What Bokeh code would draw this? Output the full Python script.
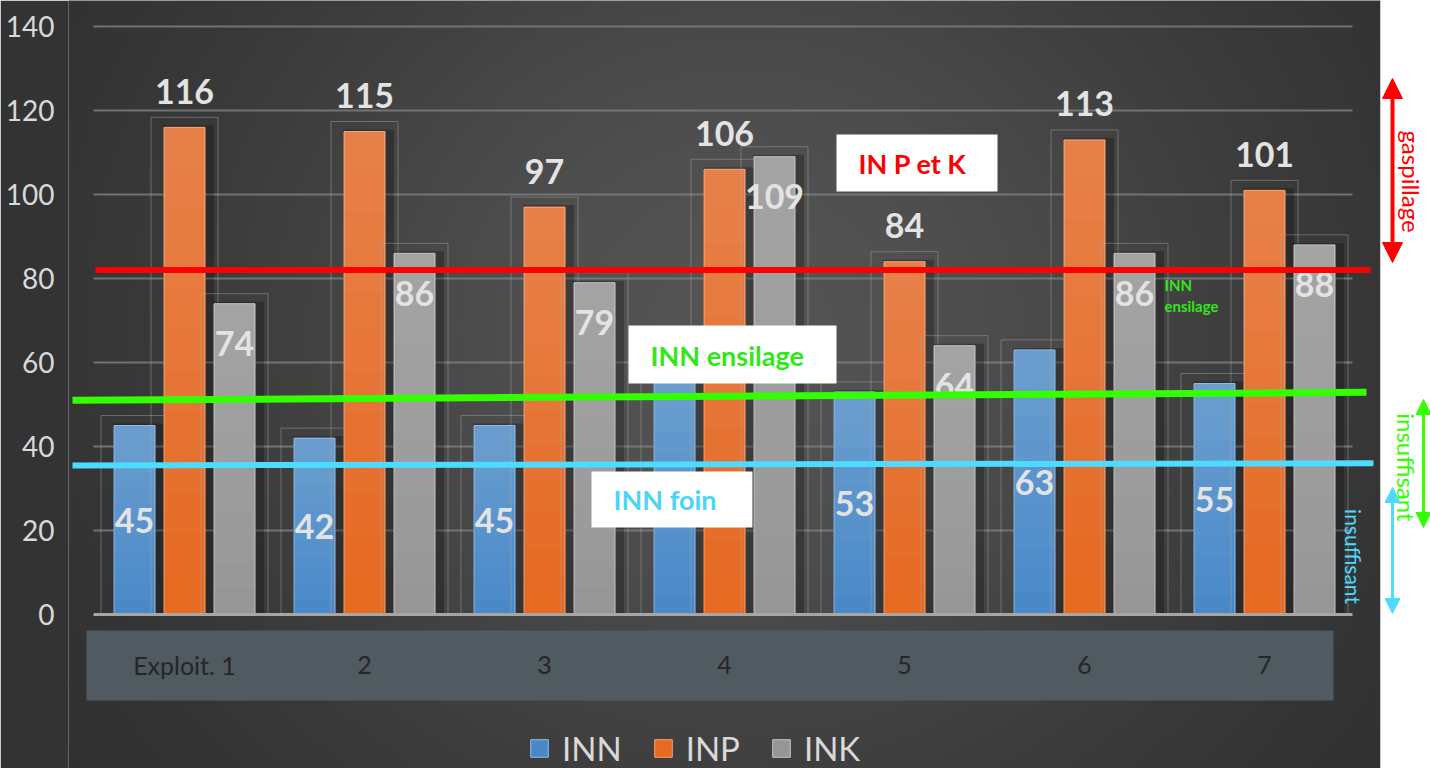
import numpy as np
from bokeh.plotting import figure
from bokeh.models import (Range1d, FixedTicker, ColumnDataSource, Legend, LegendItem,
                          Arrow, NormalHead)
from bokeh.core.properties import value
from bokeh.embed import file_html
from bokeh.resources import INLINE

# ---------------- data ----------------
categories = ["Exploit. 1", "2", "3", "4", "5", "6", "7"]
inn = [45, 42, 45, 58, 53, 63, 55]
inp = [116, 115, 97, 106, 84, 113, 101]
ink = [74, 86, 79, 109, 64, 86, 88]
series_names = ["INN", "INP", "INK"]
y_ticks = [0, 20, 40, 60, 80, 100, 120, 140]
seuil_names = ["IN P et K", "INN ensilage", "INN foin"]
seuil_start = [82.0, 51.0, 35.5]
seuil_end = [82.0, 52.9, 36.0]
zone_labels = ["gaspillage", "insuffisant", "insuffisant"]

# ---------------- geometry helpers (pixel -> data) ----------------
W, H = 1430, 768
X0, XS = 184.0, 180.0   # pixel of category-1 centre, pixels per category
Y0, YS = 614.0, 4.2     # pixel of value 0, pixels per unit
LEFT = 68
DARK_RIGHT = 1380

def fx(px): return 1 + (px - X0) / XS
def fy(py): return (Y0 - py) / YS
def dxp(px): return px / XS
def dyp(py): return py / YS

FONT = value("Lato")

p = figure(width=W, height=H, output_backend="svg", toolbar_location=None, title=None,
           x_range=Range1d(fx(LEFT), fx(W)), y_range=Range1d(fy(H), fy(0)),
           x_axis_location=None, y_axis_location="left",
           min_border_left=LEFT, min_border_right=0, min_border_top=0, min_border_bottom=0,
           background_fill_color=None, border_fill_color="#333333")
p.grid.visible = False
p.outline_line_color = None

ax = p.yaxis[0]
ax.ticker = FixedTicker(ticks=y_ticks)
ax.axis_line_color = None
ax.major_tick_line_color = None
ax.minor_tick_line_color = None
ax.major_label_text_font = "Lato"
ax.major_label_text_font_size = "28px"
ax.major_label_text_color = "#d9d9d9"
ax.major_label_standoff = 8

# ---------------- background gradient ----------------
ny, nx = 196, 336
x_lo = LEFT - 10
cols = x_lo + (np.arange(nx) + 0.5) * (DARK_RIGHT - x_lo) / nx
rows = (H + 8) - (np.arange(ny) + 0.5) * (H + 16) / ny
gx, gy = np.meshgrid(cols, rows)
v = 44 + 40 * np.exp(-((gx - 740) / 560) ** 2 - ((gy - 330) / 520) ** 2)
img = np.empty((ny, nx), dtype=np.uint32)
view = img.view(dtype=np.uint8).reshape((ny, nx, 4))
view[..., 0] = v.astype(np.uint8)
view[..., 1] = v.astype(np.uint8)
view[..., 2] = v.astype(np.uint8)
view[..., 3] = 255
p.image_rgba(image=[img], x=fx(x_lo), y=fy(H + 8), dw=dxp(DARK_RIGHT - x_lo), dh=dyp(H + 16))

# white strip on the right
p.quad(left=fx(DARK_RIGHT), right=fx(W + 10), bottom=fy(H + 10), top=fy(-10),
       fill_color="white", line_color=None)

# ---------------- grid ----------------
p.segment(x0=fx(93), x1=fx(1352), y0=y_ticks[1:], y1=y_ticks[1:],
          line_color="#7d7d7d", line_width=2, line_alpha=0.85)

# category band
p.quad(left=fx(86), right=fx(1333), bottom=fy(700), top=fy(630),
       fill_color="#4f5a61", line_color=None)
xs = np.arange(1, len(categories) + 1)
p.text(x=xs, y=fy(664), text=categories, text_font=FONT, text_font_size="25px",
       text_color="#262626", text_align="center", text_baseline="middle")

# ---------------- bars ----------------
bw = dxp(41)
off = dxp(50)
specs = [
    ("INN", inn, -off, "#4a89c8", "#8fbbe6"),
    ("INP", inp, 0.0, "#e66a22", "#f6a272"),
    ("INK", ink, off, "#969696", "#c4c4c4"),
]
renderers = {}
for name, vals, o, col, edge in specs:
    vals = np.array(vals, dtype=float)
    src = ColumnDataSource(dict(x=xs + o, top=vals, otop=vals + dyp(10),
                                sx=xs + o + dxp(4), stop=vals + dyp(2)))
    p.vbar(x="x", width=bw + dxp(26), top="otop", bottom=0, source=src,
           fill_color=None, line_color="#a8a8a8", line_alpha=0.45, line_width=1)
    p.vbar(x="sx", width=bw + dxp(10), top="stop", bottom=0, source=src,
           fill_color="black", fill_alpha=0.25, line_color=None)
    renderers[name] = p.vbar(x="x", width=bw, top="top", bottom=0, source=src,
                             fill_color=col, line_color=edge, line_width=1)
    # smooth lighter-towards-top shading
    for k in range(1, 12):
        p.vbar(x=xs + o, width=bw, top=vals, bottom=vals * k / 12,
               fill_color="white", fill_alpha=0.02, line_color=None)

# baseline
p.segment(x0=fx(93), x1=fx(1352), y0=0, y1=0, line_color="#a6a6a6", line_width=3)

# ---------------- value labels ----------------
lab = dict(text_font=FONT, text_font_style="bold", text_font_size="34px",
           text_color="#e3e3e3", text_align="center", text_baseline="middle")
p.text(x=xs - off, y=np.array(inn) / 2, text=[str(t) for t in inn], **lab)
p.text(x=xs, y=inp, text=[str(t) for t in inp], y_offset=-36, **lab)
p.text(x=xs + off, y=ink, text=[str(t) for t in ink], y_offset=40, **lab)

# ---------------- threshold lines ----------------
p.segment(x0=[fx(95), fx(72), fx(72)], x1=[fx(1370), fx(1366), fx(1373)],
          y0=seuil_start, y1=seuil_end,
          line_color=["#ff0000", "#33ff00", "#4ddcff"], line_width=[6, 7, 6])

# boxes
p.quad(left=[fx(836), fx(628), fx(591)], right=[fx(997), fx(836), fx(752)],
       top=[fy(134), fy(325), fy(471)], bottom=[fy(191), fy(383), fy(527)],
       fill_color="white", line_color=None)
p.text(x=[fx(858), fx(650), fx(613)], y=[fy(163), fy(355), fy(499)], text=seuil_names,
       text_color=["#ff0000", "#30e818", "#4dd4f7"], text_font=FONT, text_font_style="bold",
       text_font_size="27px", text_align="left", text_baseline="middle")
p.text(x=fx(1164), y=[fy(284), fy(305)], text=["INN", "ensilage"], text_color="#30e818",
       text_font=FONT, text_font_style="bold", text_font_size="15px",
       text_align="left", text_baseline="middle")

# ---------------- right side arrows ----------------
for xp, y1, y2, col, hs, lw in [(1392, 78, 262, "#ff0000", 20, 4),
                                (1423, 399, 527, "#33ff00", 15, 3),
                                (1392, 487, 613, "#4ddcff", 15, 3)]:
    p.add_layout(Arrow(start=NormalHead(size=hs, fill_color=col, line_color=col),
                       end=NormalHead(size=hs, fill_color=col, line_color=col),
                       x_start=fx(xp), y_start=fy(y2), x_end=fx(xp), y_end=fy(y1),
                       line_color=col, line_width=lw))

for (xp, yp), t, col, fs in zip([(1411, 181), (1406, 467), (1353, 556)], zone_labels,
                                ["#ff0000", "#33ff00", "#4ddcff"], ["24px", "24px", "21px"]):
    p.text(x=[fx(xp)], y=[fy(yp)], text=[t], angle=-np.pi / 2, text_color=col,
           text_font=FONT, text_font_size=fs, text_align="center", text_baseline="middle")

# ---------------- legend ----------------
legend = Legend(items=[LegendItem(label=n, renderers=[renderers[n]]) for n in series_names],
                orientation="horizontal", location=(460, 0),
                glyph_width=22, glyph_height=22, label_standoff=12, spacing=30,
                padding=0, margin=0, label_text_font="Lato", label_text_font_size="33px",
                label_text_color="#d9d9d9", background_fill_alpha=0, border_line_alpha=0)
p.add_layout(legend)

open("out.html", "w").write(file_html(p, INLINE))
